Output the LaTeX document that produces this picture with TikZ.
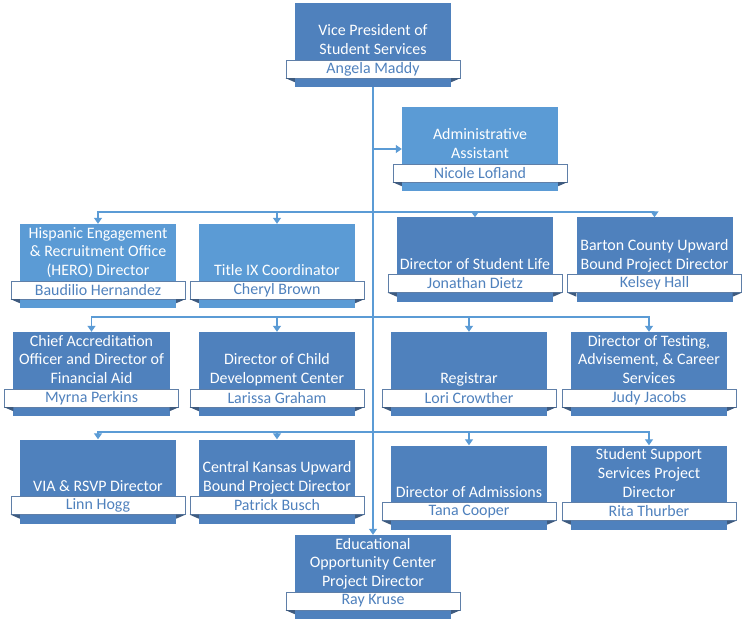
\documentclass[tikz,border=0pt]{standalone}
\usepackage{fontspec}
\setmainfont{Carlito}
\usetikzlibrary{arrows.meta,positioning}
\definecolor{boxdark}{HTML}{4F81BD}
\definecolor{boxlight}{HTML}{5B9BD5}
\definecolor{linkblue}{HTML}{5B9BD5}
\definecolor{namefg}{HTML}{4F81BD}
\definecolor{nameedge}{HTML}{5F7FA8}
\definecolor{foldgray}{HTML}{3F5B7F}

\begin{document}
\begin{tikzpicture}[x=1bp, y=-1bp,
  orgbox/.style={rectangle, fill=boxdark, minimum width=156bp, minimum height=84bp, inner sep=0pt},
  orgboxlight/.style={orgbox, fill=boxlight},
  jobtitle/.style={text=white, align=center, font=\fontsize{16}{19}\selectfont, inner sep=0.5bp, text depth=4bp},
  jobholder/.style={rectangle, draw=nameedge, line width=0.6bp, fill=white, text=namefg, minimum width=174bp, minimum height=18bp, inner sep=0pt, font=\fontsize{16}{17}\selectfont},
  fold/.style={fill=foldgray},
  reports/.style={draw=linkblue, line width=1.3bp, -{Triangle[width=8bp,length=6bp]}}]
\useasboundingbox (0,0) rectangle (747,627);

\node[orgbox] (vp) at (373,45) {};
\node[jobholder, above=9bp of vp.south] (vp-n) {Angela Maddy};
\node[jobtitle, above=0bp of vp-n] (vp-t) {Vice President of\\Student Services};

\node[orgboxlight] (aa) at (480,149) {};
\node[jobholder, above=9bp of aa.south] (aa-n) {Nicole Lofland};
\node[jobtitle, above=0bp of aa-n] (aa-t) {Administrative\\Assistant};

\node[orgboxlight] (hero) at (98,266) {};
\node[jobholder, above=9bp of hero.south] (hero-n) {Baudilio Hernandez};
\node[jobtitle, above=0bp of hero-n] (hero-t) {Hispanic Engagement\\\& Recruitment Office\\(HERO) Director};

\node[orgboxlight] (t9) at (277,266) {};
\node[jobholder, above=9bp of t9.south] (t9-n) {Cheryl Brown};
\node[jobtitle, above=0bp of t9-n] (t9-t) {Title IX Coordinator};

\node[orgbox] (life) at (475,259.5) {};
\node[jobholder, above=9bp of life.south] (life-n) {Jonathan Dietz};
\node[jobtitle, above=0bp of life-n] (life-t) {Director of Student Life};

\node[orgbox] (barton) at (654.5,259.5) {};
\node[jobholder, above=9bp of barton.south] (barton-n) {Kelsey Hall};
\node[jobtitle, above=0bp of barton-n] (barton-t) {Barton County Upward\\Bound Project Director};

\node[orgbox] (finaid) at (91.5,374) {};
\node[jobholder, above=9bp of finaid.south] (finaid-n) {Myrna Perkins};
\node[jobtitle, above=0bp of finaid-n] (finaid-t) {Chief Accreditation\\Officer and Director of\\Financial Aid};

\node[orgbox] (child) at (277,374) {};
\node[jobholder, above=9bp of child.south] (child-n) {Larissa Graham};
\node[jobtitle, above=0bp of child-n] (child-t) {Director of Child\\Development Center};

\node[orgbox] (reg) at (469,374) {};
\node[jobholder, above=9bp of reg.south] (reg-n) {Lori Crowther};
\node[jobtitle, above=0bp of reg-n] (reg-t) {Registrar};

\node[orgbox] (test) at (649,374) {};
\node[jobholder, above=9bp of test.south] (test-n) {Judy Jacobs};
\node[jobtitle, above=0bp of test-n] (test-t) {Director of Testing,\\Advisement, \& Career\\Services};

\node[orgbox] (via) at (98,481.5) {};
\node[jobholder, above=9bp of via.south] (via-n) {Linn Hogg};
\node[jobtitle, above=0bp of via-n] (via-t) {VIA \& RSVP Director};

\node[orgbox] (cku) at (277,481.5) {};
\node[jobholder, above=9bp of cku.south] (cku-n) {Patrick Busch};
\node[jobtitle, above=0bp of cku-n] (cku-t) {Central Kansas Upward\\Bound Project Director};

\node[orgbox] (adm) at (469,487.5) {};
\node[jobholder, above=9bp of adm.south] (adm-n) {Tana Cooper};
\node[jobtitle, above=0bp of adm-n] (adm-t) {Director of Admissions};

\node[orgbox] (sss) at (649,487.5) {};
\node[jobholder, above=9bp of sss.south] (sss-n) {Rita Thurber};
\node[jobtitle, above=0bp of sss-n] (sss-t) {Student Support\\Services Project\\Director};

\node[orgbox] (eoc) at (373,577) {};
\node[jobholder, above=9bp of eoc.south] (eoc-n) {Ray Kruse};
\node[jobtitle, above=0bp of eoc-n] (eoc-t) {Educational\\Opportunity Center\\Project Director};

\foreach \p in {vp,aa,hero,t9,life,barton,finaid,child,reg,test,via,cku,adm,sss,eoc} {
  \fill[fold] (\p-n.south west) -- (\p.west |- \p-n.south) -- ([yshift=-4bp]\p.west |- \p-n.south) -- cycle;
  \fill[fold] (\p-n.south east) -- (\p.east |- \p-n.south) -- ([yshift=-4bp]\p.east |- \p-n.south) -- cycle;
}

\coordinate (bus1) at (373,212);
\coordinate (bus2) at (373,317);
\coordinate (bus3) at (373,432);

\draw[reports] (vp.south) -- (eoc.north);
\draw[reports] (vp.south |- aa.west) -- (aa.west);
\draw[reports] (bus1) -| (hero.north);
\draw[reports] (bus1) -| (t9.north);
\draw[reports] (bus1) -| (life.north);
\draw[reports] (bus1) -| (barton.north);
\draw[reports] (bus2) -| (finaid.north);
\draw[reports] (bus2) -| (child.north);
\draw[reports] (bus2) -| (reg.north);
\draw[reports] (bus2) -| (test.north);
\draw[reports] (bus3) -| (via.north);
\draw[reports] (bus3) -| (cku.north);
\draw[reports] (bus3) -| (adm.north);
\draw[reports] (bus3) -| (sss.north);
\end{tikzpicture}
\end{document}
